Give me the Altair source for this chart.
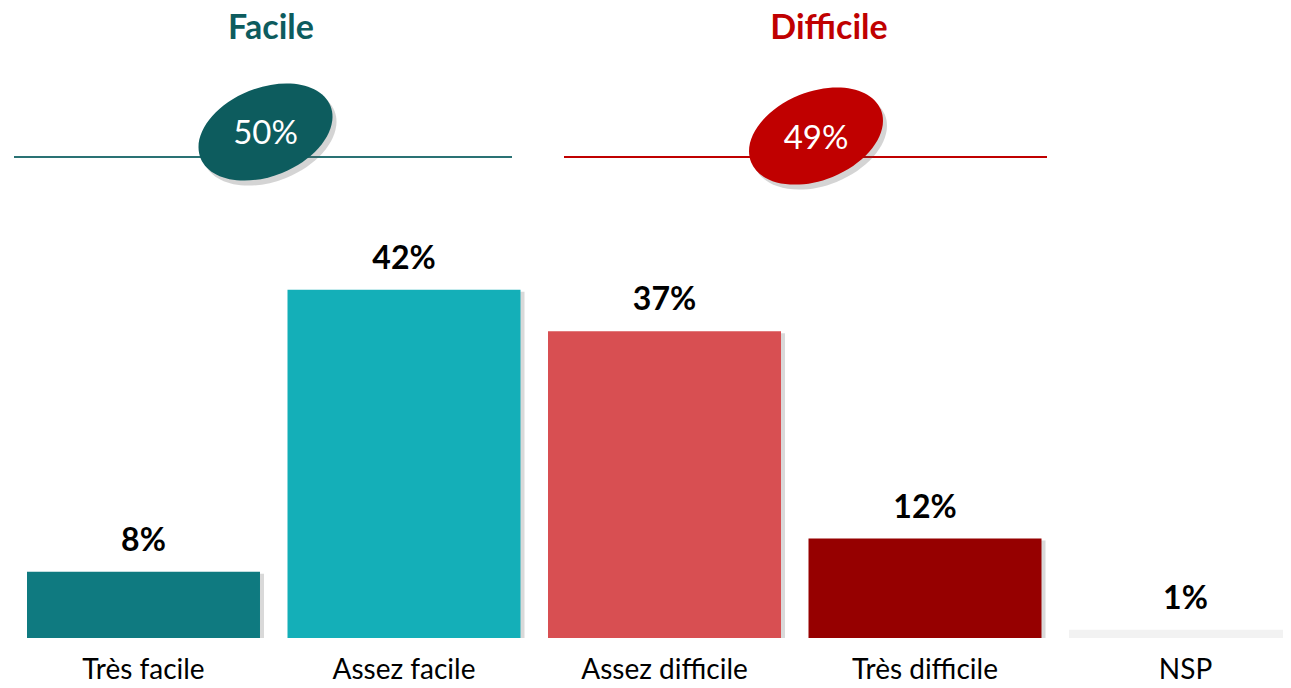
import altair as alt
import pandas as pd

# ---- data ----
categories = ["Très facile", "Assez facile", "Assez difficile", "Très difficile", "NSP"]
values = [8, 42, 37, 12, 1]
bar_colors = ["#0F7A80", "#14AFB8", "#D84F52", "#960000", "#F2F2F2"]

group_names = ["Facile", "Difficile"]
group_totals = [50, 49]
group_colors = ["#0D5C5E", "#C00000"]

# ---- layout (pixel positions of annotations, relative to plot origin) ----
W, H = 1275, 630
header_x = [263, 821]
header_y = [21, 21]
ell_x = [257.5, 808]
ell_y = [124, 128]
txt_y = [126, 131]
line_x1 = [6, 556]
line_x2 = [504, 1039]
line_y = [149, 149]
rule_colors = ["#2A7274", "#C00000"]

FONT = "Lato"

bars_df = pd.DataFrame({
    "category": categories,
    "value": values,
    "label": [f"{v}%" for v in values],
})

ann_df = pd.DataFrame({
    "group": group_names,
    "total": [f"{t}%" for t in group_totals],
    "color": group_colors,
    "rcolor": rule_colors,
    "hx": header_x, "hy": header_y,
    "ex": ell_x, "ey": ell_y, "ty": txt_y,
    "lx": line_x1, "lx2": line_x2, "ly": line_y,
})

xscale = alt.Scale(domain=categories, range=[19, 1294], paddingInner=0.1056, paddingOuter=0)
yscale = alt.Scale(domain=[0, 76])

xaxis = alt.X("category:N", sort=categories, scale=xscale,
              axis=alt.Axis(title=None, ticks=False, domain=False, labelAngle=0,
                            labelFont=FONT, labelFontSize=28, labelColor="#000000",
                            labelBaseline="alphabetic", labelPadding=40))
xenc = alt.X("category:N", sort=categories, scale=xscale)
yenc = alt.Y("value:Q", scale=yscale, axis=None)

base = alt.Chart(bars_df)

shadow = base.mark_bar(color="#808080", opacity=0.3, xOffset=4, yOffset=2, clip=True).encode(
    x=xaxis, y=yenc)
bars = base.mark_bar(clip=True).encode(
    x=xenc, y=yenc,
    color=alt.Color("category:N", scale=alt.Scale(domain=categories, range=bar_colors), legend=None),
)
labels = base.mark_text(font=FONT, fontSize=32, fontWeight="bold", color="#000000",
                        baseline="alphabetic", dy=-21).encode(x=xenc, y=yenc, text="label:N")

bar_layer = alt.layer(shadow, bars, labels)

ax = alt.Scale(domain=[0, W])
ay = alt.Scale(domain=[0, H], reverse=True)
ann = alt.Chart(ann_df)

headers = ann.mark_text(font=FONT, fontSize=34, fontWeight="bold", baseline="middle").encode(
    x=alt.X("hx:Q", scale=ax, axis=None),
    y=alt.Y("hy:Q", scale=ay, axis=None),
    text="group:N",
    color=alt.Color("color:N", scale=None),
)
rules = ann.mark_rule(strokeWidth=2).encode(
    x=alt.X("lx:Q", scale=ax, axis=None),
    x2="lx2:Q",
    y=alt.Y("ly:Q", scale=ay, axis=None),
    color=alt.Color("rcolor:N", scale=None),
)
ELLIPSE = "M -1 0 A 1 0.63 0 1 1 1 0 A 1 0.63 0 1 1 -1 0 Z"
ell_shadow = ann.mark_point(shape=ELLIPSE, size=19600, angle=338, filled=True, opacity=0.25,
                            color="#555555", strokeWidth=0, xOffset=4, yOffset=5).encode(
    x=alt.X("ex:Q", scale=ax, axis=None),
    y=alt.Y("ey:Q", scale=ay, axis=None),
)
ellipses = ann.mark_point(shape=ELLIPSE, size=19600, angle=338, filled=True, opacity=1,
                          strokeWidth=0).encode(
    x=alt.X("ex:Q", scale=ax, axis=None),
    y=alt.Y("ey:Q", scale=ay, axis=None),
    color=alt.Color("color:N", scale=None),
)
totals = ann.mark_text(font=FONT, fontSize=33, color="#FFFFFF", baseline="middle").encode(
    x=alt.X("ex:Q", scale=ax, axis=None),
    y=alt.Y("ty:Q", scale=ay, axis=None),
    text="total:N",
)

ann_layer = alt.layer(headers, rules, ell_shadow, ellipses, totals)

chart = alt.layer(bar_layer, ann_layer).resolve_scale(
    x="independent", y="independent", color="independent"
).properties(
    width=W, height=H,
    autosize=alt.AutoSizeParams(type="none"),
    padding={"left": 0, "top": 0, "right": 0, "bottom": 42},
).configure(background="#FFFFFF").configure_view(stroke=None)

chart.save("out.html", embed_options={"renderer": "svg", "actions": False})
